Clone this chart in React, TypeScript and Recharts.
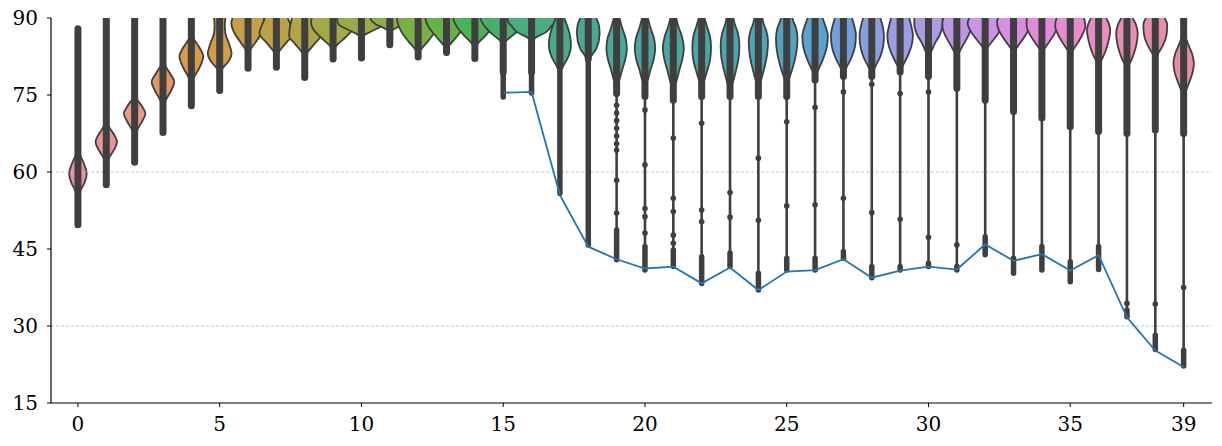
import React from "react";
import {
  ComposedChart,
  Area,
  Line,
  Scatter,
  XAxis,
  YAxis,
  ReferenceLine,
} from "recharts";

const categories = [
  0, 1, 2, 3, 4, 5, 6, 7, 8, 9, 10, 11, 12, 13, 14, 15, 16, 17, 18, 19,
  20, 21, 22, 23, 24, 25, 26, 27, 28, 29, 30, 31, 32, 33, 34, 35, 36, 37, 38, 39,
];

const xTicks = [0, 5, 10, 15, 20, 25, 30, 35, 39];
const yTicks = [15, 30, 45, 60, 75, 90];
const gridLevels = [30, 60];

// violin outlines per category: [level, half width], bottom to top
const violinShapes: number[][][] = [
  [[55.5, 0], [56.5, 0.1], [58, 0.24], [59.7, 0.31], [61.5, 0.22], [63, 0.1], [64, 0]],
  [[61.5, 0], [62.8, 0.1], [64.4, 0.28], [65.9, 0.38], [67.4, 0.26], [68.8, 0.1], [70, 0]],
  [[67, 0], [68.3, 0.1], [70, 0.28], [71.4, 0.38], [72.8, 0.26], [74.2, 0.08], [75.2, 0]],
  [[72.5, 0], [74, 0.1], [76, 0.3], [77.6, 0.4], [79, 0.27], [80.5, 0.1], [81.5, 0]],
  [[77.3, 0], [78.5, 0.1], [80.5, 0.3], [82.5, 0.42], [84.3, 0.28], [85.8, 0.1], [87, 0]],
  [[79, 0], [80.2, 0.1], [81.7, 0.33], [83.1, 0.42], [85, 0.33], [87, 0.2], [88.5, 0.18], [90, 0.2]],
  [[83, 0], [84, 0.1], [85.7, 0.32], [87.5, 0.52], [89, 0.59], [90, 0.55]],
  [[82.5, 0], [83.5, 0.1], [85.2, 0.35], [87, 0.6], [88.5, 0.52], [90, 0.4]],
  [[82.5, 0], [83.5, 0.12], [85, 0.35], [86.5, 0.55], [88.3, 0.52], [90, 0.45]],
  [[83.8, 0], [84.8, 0.15], [86.3, 0.45], [88, 0.72], [89.2, 0.78], [90, 0.75]],
  [[86.3, 0], [87, 0.2], [87.8, 0.5], [88.6, 0.78], [89.4, 0.85], [90, 0.85]],
  [[87.3, 0], [88, 0.2], [88.8, 0.5], [89.5, 0.65], [90, 0.68]],
  [[83, 0], [84, 0.12], [85.5, 0.35], [87.2, 0.58], [89, 0.72], [90, 0.75]],
  [[84, 0], [85, 0.15], [86.5, 0.38], [88, 0.6], [89.3, 0.72], [90, 0.75]],
  [[84.4, 0], [85.3, 0.15], [86.7, 0.4], [88.2, 0.62], [89.4, 0.74], [90, 0.76]],
  [[85, 0], [85.8, 0.15], [87, 0.42], [88.4, 0.65], [89.5, 0.78], [90, 0.8]],
  [[85.4, 0], [86.2, 0.15], [87.2, 0.5], [88.4, 0.7], [89.2, 0.82], [90, 0.85]],
  [[79.5, 0], [80.5, 0.1], [82.5, 0.3], [84.6, 0.39], [87, 0.34], [89, 0.22], [90, 0.15]],
  [[81.5, 0], [82.5, 0.1], [84, 0.28], [86.9, 0.4], [88.5, 0.38], [90, 0.28]],
  [[76.5, 0], [78, 0.1], [80, 0.2], [82, 0.31], [84, 0.36], [86, 0.32], [88, 0.2], [90, 0.1]],
  [[76.8, 0], [78, 0.1], [80, 0.2], [82, 0.31], [84, 0.36], [86, 0.32], [88, 0.2], [90, 0.1]],
  [[76, 0], [77.5, 0.1], [80, 0.22], [82, 0.32], [84.1, 0.37], [86.5, 0.3], [88.5, 0.17], [90, 0.1]],
  [[76.6, 0], [78, 0.1], [80, 0.21], [82, 0.3], [84.4, 0.33], [86.5, 0.29], [88.5, 0.18], [90, 0.1]],
  [[76, 0], [77.5, 0.1], [80, 0.22], [82.5, 0.31], [84.7, 0.33], [87, 0.28], [89, 0.16], [90, 0.12]],
  [[76.3, 0], [78, 0.1], [80, 0.2], [83, 0.31], [85.4, 0.34], [87.5, 0.28], [89, 0.18], [90, 0.14]],
  [[77.3, 0], [78.5, 0.1], [80.5, 0.22], [83, 0.33], [86, 0.38], [88, 0.33], [89.3, 0.24], [90, 0.2]],
  [[78.6, 0], [80, 0.12], [82, 0.28], [84, 0.4], [86.4, 0.45], [88.5, 0.36], [90, 0.26]],
  [[79.2, 0], [80.5, 0.12], [82.5, 0.3], [84.5, 0.41], [86.7, 0.44], [88.5, 0.38], [90, 0.3]],
  [[79, 0], [80.5, 0.12], [82.5, 0.3], [84.5, 0.4], [86.4, 0.43], [88.5, 0.38], [90, 0.3]],
  [[79.9, 0], [81, 0.12], [83, 0.3], [85, 0.42], [86.7, 0.45], [88.5, 0.39], [90, 0.32]],
  [[82.5, 0], [83.5, 0.1], [85.1, 0.23], [86.5, 0.38], [88, 0.48], [89, 0.5], [90, 0.5]],
  [[82.5, 0], [83.5, 0.1], [85, 0.25], [86.5, 0.4], [88, 0.5], [89, 0.51], [90, 0.47]],
  [[83.5, 0], [84.4, 0.1], [85.8, 0.3], [87.5, 0.52], [89, 0.62], [90, 0.56]],
  [[83.3, 0], [84.1, 0.1], [85.5, 0.28], [87, 0.46], [88.5, 0.57], [89.5, 0.58], [90, 0.53]],
  [[83.3, 0], [84.1, 0.1], [85.5, 0.28], [87, 0.45], [88.5, 0.54], [89.5, 0.54], [90, 0.53]],
  [[83, 0], [83.8, 0.1], [85.3, 0.28], [87, 0.45], [88.3, 0.53], [89.5, 0.51], [90, 0.47]],
  [[81, 0], [81.8, 0.1], [83.5, 0.24], [85.5, 0.35], [87.7, 0.41], [89.2, 0.34], [90, 0.26]],
  [[80.5, 0], [81.2, 0.1], [83, 0.24], [85, 0.34], [87, 0.38], [88.8, 0.31], [90, 0.2]],
  [[82.3, 0], [83.1, 0.1], [84.8, 0.28], [86.8, 0.4], [88.6, 0.42], [89.5, 0.38], [90, 0.32]],
  [[75, 0], [75.6, 0.06], [77.5, 0.2], [79.5, 0.32], [81.2, 0.36], [83, 0.3], [85, 0.15], [86, 0.08], [87, 0]],
];

// dense band of inner points
const denseHigh = [
  87.9, 91, 91, 91, 91, 91, 91, 91, 91, 91, 91, 91, 91, 91, 91, 91, 91, 91, 91, 91,
  91, 91, 91, 91, 91, 91, 91, 91, 91, 91, 91, 91, 91, 91, 91, 91, 91, 91, 91, 91,
];
const denseLow = [
  49.7, 57.5, 61.9, 67.7, 72.9, 75.9, 80.2, 80.4, 78.4, 82.0, 82.2, 84.8, 82.4, 83.3, 82.1,
  79.5, 79.5, 80.5, 82.0, 75.3, 74.7, 74.0, 74.7, 74.7, 74.7, 74.7, 77.9, 78.6, 78.6, 79.5,
  78.6, 76.3, 74.0, 71.8, 70.5, 68.8, 67.9, 67.5, 68.2, 67.5,
];
// lowest inner point
const stickLow = [
  null, null, null, null, null, null, null, null, null, null, null, null, null, null, null,
  74.6, 75.4, 55.8, 45.8, 42.9, 40.9, 41.6, 38.3, 41.6, 37.0, 40.9, 40.9, 43.2, 39.4, 40.9,
  41.6, 40.9, 43.9, 40.3, 40.9, 38.6, 41.0, 31.8, 25.4, 22.2,
];
// top of the packed cluster of low points
const clusterTop = [
  null, null, null, null, null, null, null, null, null, null, null, null, null, null, null,
  79.5, 79.5, 80.5, 82.0, 48.7, 45.5, 44.8, 43.5, 44.2, 40.3, 43.2, 43.2, 44.5, 41.6, 41.6,
  42.2, 41.6, 47.4, 43.2, 45.5, 42.5, 45.5, 33.1, 28.2, 25.3,
];
const outlierDots: number[][] = [
  [], [], [], [], [], [], [], [], [], [], [], [], [], [], [], [], [], [], [],
  [73, 71.5, 70, 68.5, 67, 65.5, 64.3, 58.4, 52.0],
  [72.1, 61.4, 52.9, 51.3, 48.1],
  [66.6, 54.9, 52.3, 47.7, 46.1],
  [69.5, 52.6, 50.3],
  [56.0, 51.2],
  [62.7, 50.6],
  [69.8, 53.4],
  [72.6, 53.6],
  [75.6, 54.9],
  [77.1, 52.1],
  [75.3, 50.8],
  [75.6, 47.3],
  [45.8],
  [], [], [], [], [],
  [34.4],
  [34.3],
  [37.5],
];

const minLine = [
  null, null, null, null, null, null, null, null, null, null, null, null, null, null, null,
  75.45, 75.6, 55.5, 45.45, 43.0, 41.2, 41.55, 38.3, 41.4, 37.0, 40.6, 40.9, 43.0, 39.4, 40.8,
  41.55, 41.0, 45.9, 42.7, 44.0, 40.8, 43.8, 31.7, 25.2, 22.0,
];

const violinColors = [
  "#e8909c", "#ea9595", "#eb9a85", "#e69560", "#dc9a4c", "#d29d47", "#c5a044", "#bba345",
  "#b0a645", "#a5a845", "#98ab45", "#8aad45", "#79b046", "#63b347", "#49b452", "#47b16c",
  "#48ae80", "#48ac8c", "#48aa94", "#49a99a", "#49a8a0", "#4aa7a5", "#4ba6ab", "#4ca5b1",
  "#4ea4b8", "#52a3c2", "#5aa2d2", "#70a1dd", "#88a0e2", "#9b9de5", "#ad9ae7", "#bd97e6",
  "#cb93e4", "#d88fe1", "#e38bdb", "#e78bcd", "#e88dc0", "#e88eb3", "#e88fa8", "#e8909f",
];

const INK = "#3f3f3f";
const FONT = "DejaVu Serif";

const violinData = categories.map((c) =>
  violinShapes[c].map(([lvl, hw]) => ({ lvl, x: [c - hw, c + hw] }))
);

const segment = (c: number, lo: number, hi: number) => [
  { lvl: lo, x: c },
  { lvl: hi, x: c },
];

// one vertical segment per category for each layer of the inner points
const stickSegs = categories
  .filter((c) => stickLow[c] != null)
  .map((c) => ({ c, data: segment(c, stickLow[c] as number, denseLow[c]) }));
const clusterSegs = categories
  .filter((c) => clusterTop[c] != null && stickLow[c] != null)
  .map((c) => ({ c, data: segment(c, stickLow[c] as number, clusterTop[c] as number) }));
const denseSegs = categories.map((c) => ({ c, data: segment(c, denseLow[c], denseHigh[c]) }));

const dotData = categories.flatMap((c) => outlierDots[c].map((v) => ({ x: c, lvl: v })));
const lineData = categories
  .filter((c) => minLine[c] != null)
  .map((c) => ({ x: c, lvl: minLine[c] }));

const tickStyle = { fill: "#000", fontSize: 20, fontFamily: FONT };

const renderSegs = (
  segs: { c: number; data: { lvl: number; x: number }[] }[],
  name: string,
  width: number
) =>
  segs.map((s) => (
    <Line
      key={`${name}-${s.c}`}
      data={s.data}
      dataKey="x"
      type="linear"
      stroke={INK}
      strokeWidth={width}
      strokeLinecap="round"
      dot={false}
      activeDot={false}
      isAnimationActive={false}
    />
  ));

export default function App() {
  return (
    <div style={{ position: "absolute", left: 0, top: 0, background: "#fff" }}>
      <ComposedChart
        width={1222}
        height={446}
        layout="vertical"
        margin={{ top: 18, right: 10, bottom: 0, left: 0 }}
      >
        <XAxis
          type="number"
          dataKey="x"
          domain={[-0.95, 40]}
          ticks={xTicks}
          interval={0}
          allowDataOverflow
          height={43}
          tickSize={4}
          tickMargin={10}
          tick={tickStyle}
          axisLine={{ stroke: "#000", strokeWidth: 1.2 }}
          tickLine={{ stroke: "#000" }}
        />
        <XAxis
          xAxisId="top"
          orientation="top"
          type="number"
          domain={[-0.95, 40]}
          height={0}
          tick={false}
          tickLine={false}
          axisLine={{ stroke: "#000", strokeWidth: 1.2 }}
        />
        <YAxis
          type="number"
          dataKey="lvl"
          domain={[15, 90]}
          ticks={yTicks}
          interval={0}
          reversed
          allowDataOverflow
          width={51}
          tickSize={4}
          tickMargin={9}
          tick={tickStyle}
          axisLine={{ stroke: "#000", strokeWidth: 1.2 }}
          tickLine={{ stroke: "#000" }}
        />
        <YAxis
          yAxisId="right"
          orientation="right"
          type="number"
          domain={[15, 90]}
          reversed
          width={0}
          tick={false}
          tickLine={false}
          axisLine={{ stroke: "#000", strokeWidth: 1.2 }}
        />
        {categories.map((c) => (
          <Area
            key={`violin-${c}`}
            data={violinData[c]}
            dataKey="x"
            type="monotone"
            fill={violinColors[c]}
            fillOpacity={1}
            stroke={INK}
            strokeWidth={1.8}
            dot={false}
            activeDot={false}
            isAnimationActive={false}
          />
        ))}
        {gridLevels.map((v) => (
          <ReferenceLine
            key={`grid-${v}`}
            y={v}
            stroke="#8fc3e4"
            strokeWidth={0.8}
            strokeDasharray="3 2"
          />
        ))}
        {renderSegs(stickSegs, "stick", 2.6)}
        {renderSegs(clusterSegs, "cluster", 5.5)}
        {renderSegs(denseSegs, "dense", 7)}
        <Scatter
          data={dotData}
          isAnimationActive={false}
          shape={(p: any) => <circle cx={p.cx} cy={p.cy} r={2.8} fill={INK} />}
        />
        <Line
          data={lineData}
          dataKey="x"
          type="linear"
          stroke="#1f77b4"
          strokeWidth={1.8}
          dot={false}
          activeDot={false}
          isAnimationActive={false}
        />
      </ComposedChart>
    </div>
  );
}
